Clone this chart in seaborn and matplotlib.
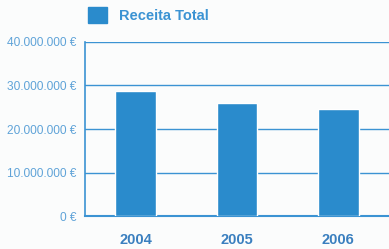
import matplotlib
matplotlib.use("Agg")
import matplotlib.pyplot as plt
import seaborn as sns
import pandas as pd
from matplotlib.patches import Patch
from matplotlib.ticker import FuncFormatter

# Data
years = ["2004", "2005", "2006"]
receita = [28700000, 26000000, 24600000]
series_name = "Receita Total"

bar_color = "#2a8bcc"
line_color = "#3b93d3"
tick_color = "#5fa3d8"
year_color = "#3a7fbf"

df = pd.DataFrame({"Ano": years, "Receita": receita})

sns.set_style("white")
plt.rcParams['font.family'] = ['Liberation Sans', 'DejaVu Sans']

fig = plt.figure(figsize=(3.89, 2.49), dpi=100)
fig.patch.set_facecolor("#fbfcfc")
ax = fig.add_axes([85 / 389, 1 - 216 / 249, 1 - 85 / 389, (216 - 42) / 249])
ax.set_facecolor("#fbfcfc")

sns.barplot(data=df, x="Ano", y="Receita", color=bar_color, width=0.4,
            saturation=1, ax=ax, zorder=3)

ax.set_xlim(-0.5, 2.5)
ax.set_ylim(0, 40000000)
ax.set_yticks([0, 10000000, 20000000, 30000000, 40000000])
ax.yaxis.set_major_formatter(FuncFormatter(lambda v, p: f"{int(v):,} €".replace(",", ".")))

# horizontal grid lines behind the bars
ax.yaxis.grid(True, color=line_color, linewidth=1.0, zorder=0)
ax.set_axisbelow(True)

for side in ["top", "right"]:
    ax.spines[side].set_visible(False)
ax.spines["left"].set_color(line_color)
ax.spines["left"].set_linewidth(1.2)
ax.spines["bottom"].set_color(line_color)
ax.spines["bottom"].set_linewidth(1.5)

ax.tick_params(axis="y", colors=line_color, labelcolor=tick_color, labelsize=8.6,
               length=5, width=1, pad=1)
ax.tick_params(axis="x", which="major", length=0, pad=12, labelcolor=year_color,
               labelsize=10.5)
for lbl in ax.get_xticklabels():
    lbl.set_fontweight("bold")
ax.set_xticks([0.5, 1.5], minor=True)
ax.tick_params(axis="x", which="minor", length=4, width=1, color=line_color)

ax.set_xlabel("")
ax.set_ylabel("")

handle = Patch(facecolor=bar_color, edgecolor=bar_color)
leg = fig.legend([handle], [series_name], loc="center left",
                 bbox_to_anchor=(75 / 389, 1 - 15 / 249), frameon=False,
                 handlelength=1.3, handleheight=1.3, handletextpad=0.8,
                 prop={"weight": "bold", "size": 10.5})
for t in leg.get_texts():
    t.set_color(line_color)

fig.savefig("out.png", dpi=100, facecolor=fig.get_facecolor())
